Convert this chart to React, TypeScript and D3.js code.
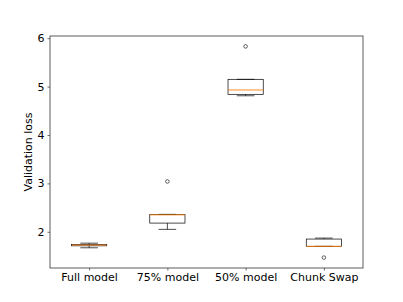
import { useEffect, useRef } from "react";
import * as d3 from "d3";

const categories = ["Full model", "75% model", "50% model", "Chunk Swap"];
const q1 = [1.71, 2.18, 4.84, 1.7];
const medians = [1.725, 2.35, 4.93, 1.7];
const q3 = [1.735, 2.36, 5.15, 1.85];
const whiskerLow = [1.67, 2.05, 4.81, 1.7];
const whiskerHigh = [1.765, 2.36, 5.15, 1.87];
const outliers: number[][] = [[], [3.04], [5.83], [1.467]];
const yTicks = [2, 3, 4, 5, 6];

const App = () => {
  const chartRef = useRef<SVGSVGElement>(null);

  useEffect(() => {
    const width = 403;
    const height = 302;
    const margin = { top: 36, right: 40, bottom: 34, left: 50 };
    const innerW = width - margin.left - margin.right;
    const innerH = height - margin.top - margin.bottom;
    const font = "DejaVu Sans, sans-serif";

    const svg = d3.select(chartRef.current);
    svg.selectAll("*").remove();
    const g = svg
      .append("g")
      .attr("transform", `translate(${margin.left},${margin.top})`);

    // positions 1..4, limits 0.5..4.5 like matplotlib
    const x = d3.scaleLinear().domain([0.5, 4.5]).range([0, innerW]);
    const y = d3.scaleLinear().domain([1.252, 6.045]).range([innerH, 0]);
    const boxW = x(1.45) - x(1);
    const capW = boxW / 2;

    const data = categories.map((c, i) => ({
      name: c,
      pos: i + 1,
      q1: q1[i],
      med: medians[i],
      q3: q3[i],
      lo: whiskerLow[i],
      hi: whiskerHigh[i],
      out: outliers[i],
    }));

    // axes
    const yAxis = g
      .append("g")
      .call(
        d3
          .axisLeft(y)
          .tickValues(yTicks)
          .tickFormat(d3.format("d"))
          .tickSize(2.5)
          .tickPadding(3)
      );
    const xAxis = g
      .append("g")
      .attr("transform", `translate(0,${innerH})`)
      .call(
        d3
          .axisBottom(x)
          .tickValues([1, 2, 3, 4])
          .tickFormat((d) => categories[(d as number) - 1])
          .tickSize(2.5)
          .tickPadding(3)
      );
    [xAxis, yAxis].forEach((a) => {
      a.select(".domain").remove();
      a.selectAll("line").attr("stroke", "#333").attr("stroke-width", 0.7);
      a.selectAll("text")
        .attr("fill", "#000")
        .style("font-family", font)
        .style("font-size", "11px");
    });

    // frame
    g.append("rect")
      .attr("width", innerW)
      .attr("height", innerH)
      .attr("fill", "none")
      .attr("stroke", "#333")
      .attr("stroke-width", 0.8);

    const boxes = g.selectAll(".box").data(data).enter().append("g");

    // whiskers
    boxes
      .append("line")
      .attr("x1", (d) => x(d.pos))
      .attr("x2", (d) => x(d.pos))
      .attr("y1", (d) => y(d.lo))
      .attr("y2", (d) => y(d.q1))
      .attr("stroke", "#000")
      .attr("stroke-width", 0.7);
    boxes
      .append("line")
      .attr("x1", (d) => x(d.pos))
      .attr("x2", (d) => x(d.pos))
      .attr("y1", (d) => y(d.q3))
      .attr("y2", (d) => y(d.hi))
      .attr("stroke", "#000")
      .attr("stroke-width", 0.7);
    // caps
    [(d: any) => d.lo, (d: any) => d.hi].forEach((f) => {
      boxes
        .append("line")
        .attr("x1", (d) => x(d.pos) - capW / 2)
        .attr("x2", (d) => x(d.pos) + capW / 2)
        .attr("y1", (d) => y(f(d)))
        .attr("y2", (d) => y(f(d)))
        .attr("stroke", "#000")
        .attr("stroke-width", 0.7);
    });
    // box
    boxes
      .append("rect")
      .attr("x", (d) => x(d.pos) - boxW / 2)
      .attr("y", (d) => y(d.q3))
      .attr("width", boxW)
      .attr("height", (d) => Math.max(y(d.q1) - y(d.q3), 0.5))
      .attr("fill", "none")
      .attr("stroke", "#000")
      .attr("stroke-width", 0.7);
    // median
    boxes
      .append("line")
      .attr("x1", (d) => x(d.pos) - boxW / 2)
      .attr("x2", (d) => x(d.pos) + boxW / 2)
      .attr("y1", (d) => y(d.med))
      .attr("y2", (d) => y(d.med))
      .attr("stroke", "#ff7f0e")
      .attr("stroke-width", 0.9);
    // outliers
    boxes
      .selectAll("circle")
      .data((d) => d.out.map((v) => ({ pos: d.pos, v })))
      .enter()
      .append("circle")
      .attr("cx", (d) => x(d.pos))
      .attr("cy", (d) => y(d.v))
      .attr("r", 1.8)
      .attr("fill", "none")
      .attr("stroke", "#000")
      .attr("stroke-width", 0.6);

    // y label
    svg
      .append("text")
      .attr("transform", `translate(28,${margin.top + innerH / 2}) rotate(-90)`)
      .attr("text-anchor", "middle")
      .attr("dominant-baseline", "central")
      .style("font-family", font)
      .style("font-size", "11px")
      .text("Validation loss");
  }, []);

  return (
    <svg
      ref={chartRef}
      width={403}
      height={302}
      style={{ position: "absolute", left: 0, top: 0, background: "#fff" }}
    />
  );
};

export default App;
